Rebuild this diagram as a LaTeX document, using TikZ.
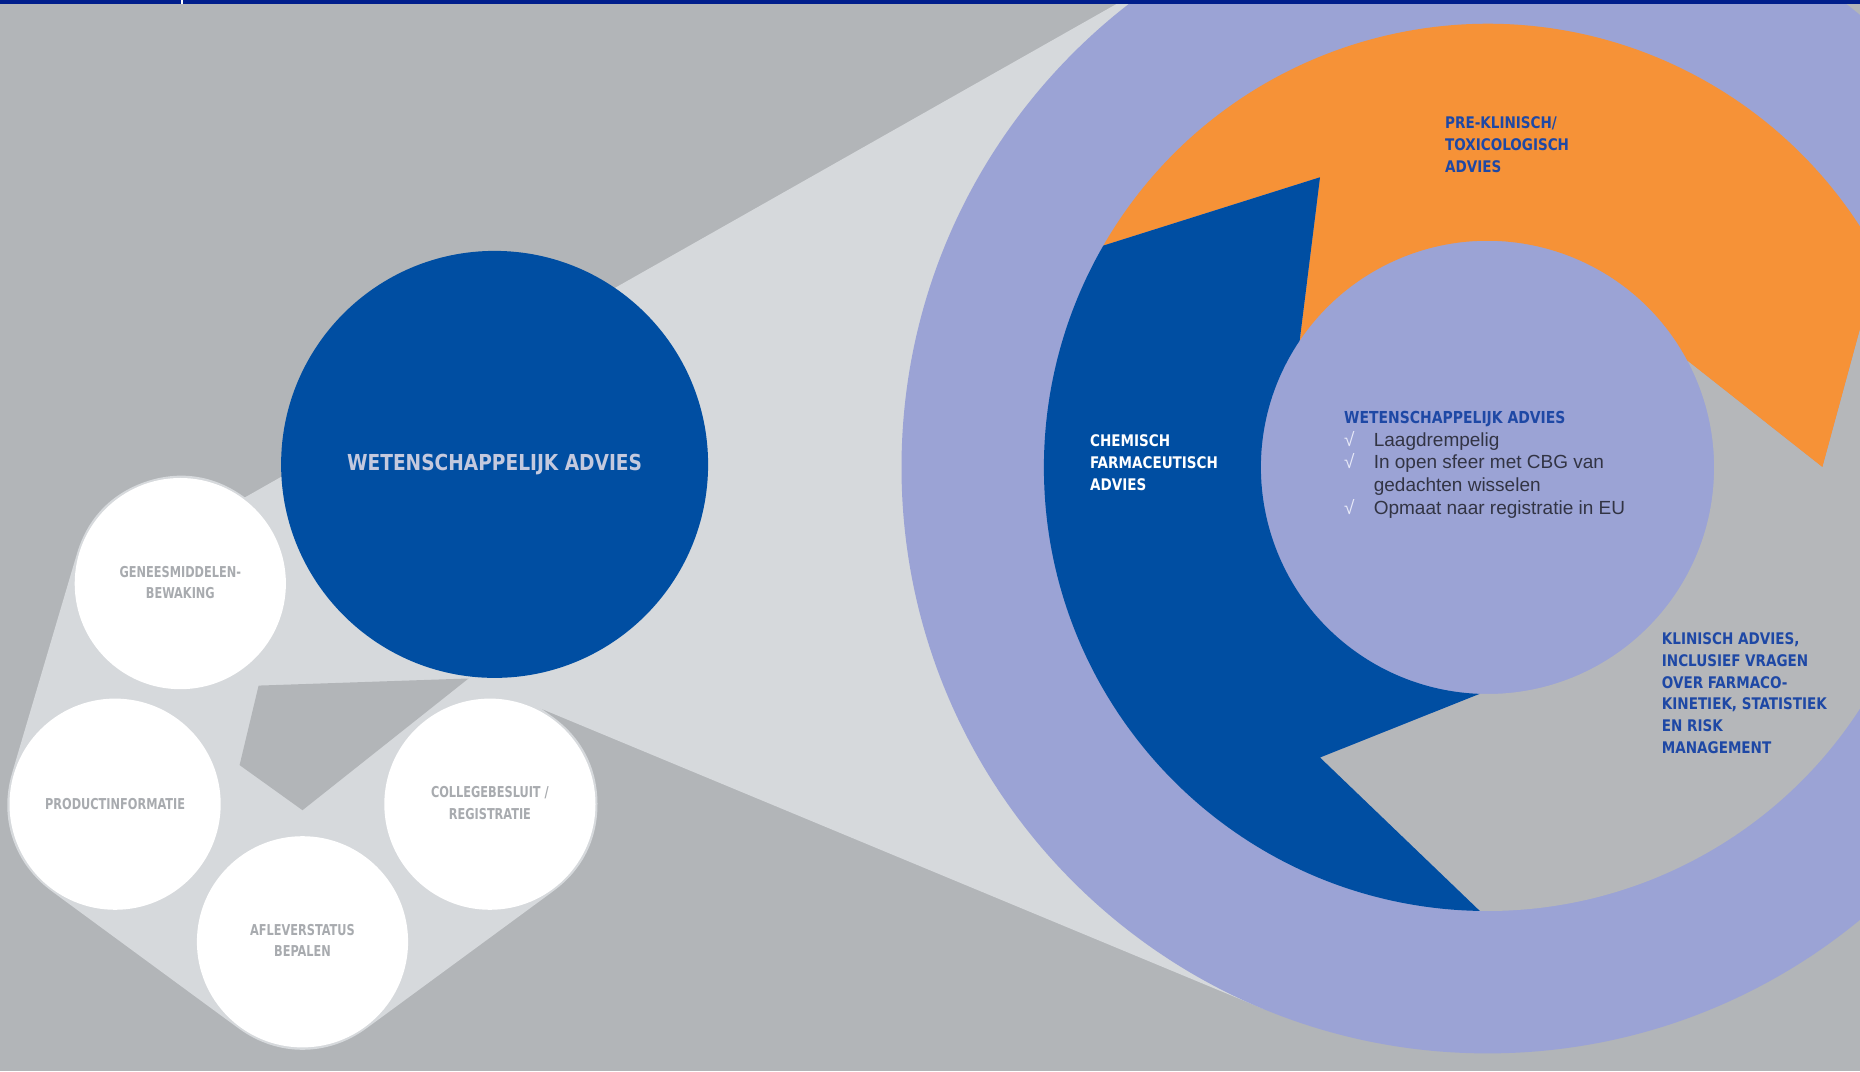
\documentclass[tikz,border=0pt]{standalone}
\usepackage{fontspec}
\usepackage{graphicx}
\setmainfont{Liberation Sans}
\newfontfamily\condW[FakeStretch=0.94]{DejaVu Sans Condensed}
\newfontfamily\condN[FakeStretch=0.84]{DejaVu Sans Condensed}
\definecolor{bggray}{RGB}{178,181,184}
\definecolor{lgray}{RGB}{214,217,220}
\definecolor{lav}{RGB}{155,163,213}
\definecolor{orng}{RGB}{246,146,55}
\definecolor{dblue}{RGB}{0,78,162}
\definecolor{rgray}{RGB}{181,183,186}
\definecolor{barblue}{RGB}{0,30,140}
\definecolor{ctext}{RGB}{196,201,222}
\definecolor{wtext}{RGB}{168,171,175}
\definecolor{btext}{RGB}{30,72,165}
\definecolor{chk}{RGB}{232,234,248}
\definecolor{ltext}{RGB}{50,52,68}
\newcommand\mylines[2][l]{\begin{tabular}[t]{@{}#1@{}}#2\end{tabular}}
\begin{document}
\begin{tikzpicture}[x=1pt,y=1pt,
  wcirc/.style={circle,fill=white,inner sep=0pt,outer sep=0pt,minimum size=211.2pt,
     text=wtext,font=\condN\bfseries\fontsize{15}{21.7}\selectfont},
  bcirc/.style={circle,fill=dblue,inner sep=0pt,outer sep=0pt,minimum size=427pt,
     text=ctext,font=\condW\bfseries\fontsize{22}{26}\selectfont},
  ringlabel/.style={anchor=base west,inner sep=0pt,font=\condW\bfseries\fontsize{16}{21.8}\selectfont}]
\useasboundingbox (0,0) rectangle (1860,1071);
\fill[bggray] (0,0) rectangle (1860,1071);
% coordinates
\coordinate (C) at (1487.5,603.6);
\coordinate (apex) at (155,522.7);
\coordinate (tt) at (1198.8,1113.6);
\coordinate (tb) at (1262.7,62.5);
\coordinate (cGen) at (180.3,487.4);
\coordinate (cProd) at (115.1,266.8);
\coordinate (cAfl) at (302.5,129.2);
\coordinate (cCol) at (489.9,266.8);
% cone
\fill[lgray] (apex) -- (tt) -- (C) -- (tb) -- cycle;
% hull round the small circles
\filldraw[lgray,line width=215.2pt,line join=round] (cGen) -- (cProd) -- (cAfl) -- (cCol) -- cycle;
% inner gap
\fill[bggray] (258.6,385.4) -- (468.5,392.5) -- (302.5,260.8) -- (239.6,305.9) -- cycle;
% circles
\node[bcirc] (wa) at (494.6,606.6) {WETENSCHAPPELIJK ADVIES};
\node[wcirc] (gen) at (cGen) {\mylines[c]{GENEESMIDDELEN-\\BEWAKING}};
\node[wcirc] (prod) at (cProd) {PRODUCTINFORMATIE};
\node[wcirc] (afl) at (cAfl) {\mylines[c]{AFLEVERSTATUS\\BEPALEN}};
\node[wcirc] (col) at (cCol) {\mylines[c]{COLLEGEBESLUIT /\\REGISTRATIE}};
% big lavender circle
\fill[lav] (C) circle[radius=586];
% ring of three arrows
\begin{scope}[shift={(C)}]
\fill[orng] (150:443.6) arc[start angle=150,end angle=28,radius=443.6] -- (0:335)
  -- (28:226.6) arc[start angle=28,end angle=146,radius=226.6] -- (120:335) -- cycle;
\fill[rgray] (28:443.6) arc[start angle=28,end angle=-91,radius=443.6] -- (-120:335)
  -- (-92:226.6) arc[start angle=-92,end angle=28,radius=226.6] -- (0:335) -- cycle;
\fill[dblue] (-91:443.6) arc[start angle=-91,end angle=-210,radius=443.6] -- (-240:335)
  -- (-214:226.6) arc[start angle=-214,end angle=-92,radius=226.6] -- (-120:335) -- cycle;
\end{scope}
% top bar
\fill[barblue] (0,1067) rectangle (1860,1071);
\fill[white] (181,1067) rectangle (182.5,1071);
% labels in the ring
\node[ringlabel,text=white] (chem) at (1090,624.3) {\mylines{CHEMISCH\\FARMACEUTISCH\\ADVIES}};
\node[ringlabel,text=btext] (pre) at (1445,942.2) {\mylines{PRE-KLINISCH/\\TOXICOLOGISCH\\ADVIES}};
\node[ringlabel,text=btext] (klin) at (1661.7,426.5) {\mylines{KLINISCH ADVIES,\\INCLUSIEF VRAGEN\\OVER FARMACO-\\KINETIEK, STATISTIEK\\EN RISK\\MANAGEMENT}};
% inner circle text
\node[anchor=base west,inner sep=0pt,text=ltext,font=\fontsize{19}{22.7}\selectfont] (list) at (1344,647.5)
 {\begin{tabular}[t]{@{}l@{}l@{}}
  \multicolumn{2}{@{}l@{}}{\condW\bfseries\fontsize{16.5}{22.7}\selectfont\color{btext}WETENSCHAPPELIJK ADVIES}\\
  \makebox[29.6pt][l]{\color{chk}√}&Laagdrempelig\\
  \makebox[29.6pt][l]{\color{chk}√}&In open sfeer met CBG van\\
  &gedachten wisselen\\
  \makebox[29.6pt][l]{\color{chk}√}&Opmaat naar registratie in EU
 \end{tabular}};
\end{tikzpicture}
\end{document}
